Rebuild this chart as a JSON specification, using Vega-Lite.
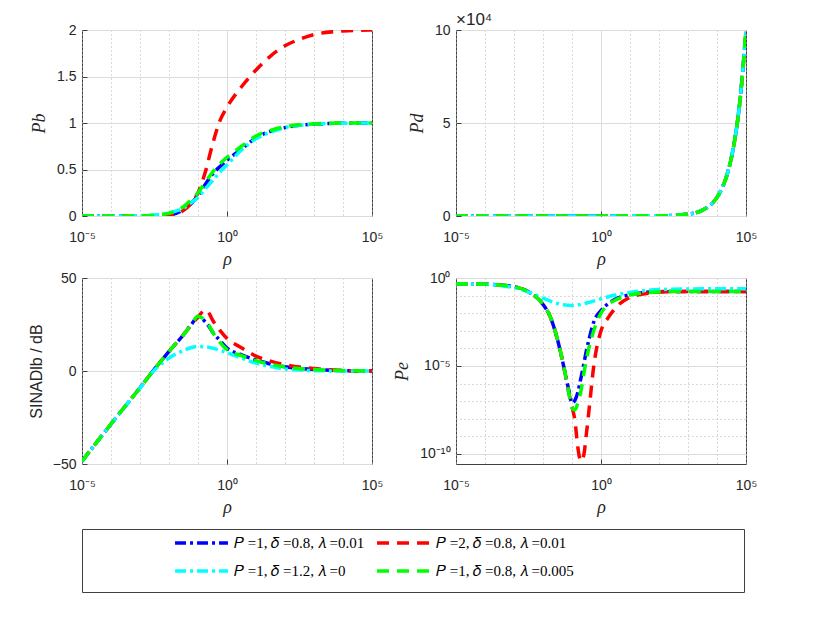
{
  "$schema": "https://vega.github.io/schema/vega-lite/v6.json",
  "padding": {"left": 27, "top": 10, "right": 5, "bottom": 5},
  "datasets": {
    "pb": [
      {"s":"A","rho":1e-5,"v":0},{"s":"A","rho":1e-4,"v":0},{"s":"A","rho":1e-3,"v":0},{"s":"A","rho":0.003162,"v":0.002},{"s":"A","rho":0.01,"v":0.01},{"s":"A","rho":0.03162,"v":0.07},{"s":"A","rho":0.05623,"v":0.13},{"s":"A","rho":0.1,"v":0.22},{"s":"A","rho":0.1778,"v":0.34},{"s":"A","rho":0.3162,"v":0.45},{"s":"A","rho":0.5623,"v":0.53},{"s":"A","rho":1,"v":0.6},{"s":"A","rho":3.162,"v":0.72},{"s":"A","rho":10,"v":0.84},{"s":"A","rho":31.62,"v":0.91},{"s":"A","rho":100,"v":0.95},{"s":"A","rho":316.2,"v":0.975},{"s":"A","rho":1000,"v":0.988},{"s":"A","rho":1e4,"v":0.998},{"s":"A","rho":1e5,"v":1.0},
      {"s":"B","rho":1e-5,"v":0},{"s":"B","rho":1e-4,"v":0},{"s":"B","rho":1e-3,"v":0},{"s":"B","rho":0.003162,"v":0.001},{"s":"B","rho":0.01,"v":0.005},{"s":"B","rho":0.03162,"v":0.06},{"s":"B","rho":0.05623,"v":0.13},{"s":"B","rho":0.1,"v":0.25},{"s":"B","rho":0.1778,"v":0.47},{"s":"B","rho":0.3162,"v":0.77},{"s":"B","rho":0.5623,"v":1.02},{"s":"B","rho":1,"v":1.17},{"s":"B","rho":3.162,"v":1.39},{"s":"B","rho":10,"v":1.57},{"s":"B","rho":31.62,"v":1.72},{"s":"B","rho":100,"v":1.83},{"s":"B","rho":316.2,"v":1.9},{"s":"B","rho":1000,"v":1.95},{"s":"B","rho":1e4,"v":1.99},{"s":"B","rho":1e5,"v":2.0},
      {"s":"C","rho":1e-5,"v":0},{"s":"C","rho":1e-4,"v":0},{"s":"C","rho":1e-3,"v":0.003},{"s":"C","rho":0.003162,"v":0.012},{"s":"C","rho":0.01,"v":0.035},{"s":"C","rho":0.03162,"v":0.085},{"s":"C","rho":0.05623,"v":0.14},{"s":"C","rho":0.1,"v":0.2},{"s":"C","rho":0.1778,"v":0.29},{"s":"C","rho":0.3162,"v":0.38},{"s":"C","rho":0.5623,"v":0.47},{"s":"C","rho":1,"v":0.55},{"s":"C","rho":3.162,"v":0.71},{"s":"C","rho":10,"v":0.83},{"s":"C","rho":31.62,"v":0.9},{"s":"C","rho":100,"v":0.95},{"s":"C","rho":316.2,"v":0.975},{"s":"C","rho":1000,"v":0.988},{"s":"C","rho":1e4,"v":0.998},{"s":"C","rho":1e5,"v":1.0},
      {"s":"D","rho":1e-5,"v":0},{"s":"D","rho":1e-4,"v":0},{"s":"D","rho":1e-3,"v":0.001},{"s":"D","rho":0.003162,"v":0.008},{"s":"D","rho":0.01,"v":0.03},{"s":"D","rho":0.03162,"v":0.1},{"s":"D","rho":0.05623,"v":0.17},{"s":"D","rho":0.1,"v":0.25},{"s":"D","rho":0.1778,"v":0.36},{"s":"D","rho":0.3162,"v":0.47},{"s":"D","rho":0.5623,"v":0.56},{"s":"D","rho":1,"v":0.63},{"s":"D","rho":3.162,"v":0.75},{"s":"D","rho":10,"v":0.86},{"s":"D","rho":31.62,"v":0.92},{"s":"D","rho":100,"v":0.96},{"s":"D","rho":316.2,"v":0.98},{"s":"D","rho":1000,"v":0.99},{"s":"D","rho":1e4,"v":0.999},{"s":"D","rho":1e5,"v":1.0}
    ],
    "pd": [
      {"s":"A","rho":1e-5,"v":0},{"s":"A","rho":100,"v":0.01},{"s":"A","rho":1000,"v":0.1},{"s":"A","rho":3162,"v":0.316},{"s":"A","rho":5623,"v":0.562},{"s":"A","rho":1e4,"v":1},{"s":"A","rho":15849,"v":1.585},{"s":"A","rho":25119,"v":2.512},{"s":"A","rho":39811,"v":3.981},{"s":"A","rho":63096,"v":6.31},{"s":"A","rho":1e5,"v":10},
      {"s":"B","rho":1e-5,"v":0},{"s":"B","rho":100,"v":0.01},{"s":"B","rho":1000,"v":0.1},{"s":"B","rho":3162,"v":0.316},{"s":"B","rho":5623,"v":0.562},{"s":"B","rho":1e4,"v":1},{"s":"B","rho":15849,"v":1.585},{"s":"B","rho":25119,"v":2.512},{"s":"B","rho":39811,"v":3.981},{"s":"B","rho":63096,"v":6.31},{"s":"B","rho":1e5,"v":10},
      {"s":"C","rho":1e-5,"v":0},{"s":"C","rho":100,"v":0.01},{"s":"C","rho":1000,"v":0.1},{"s":"C","rho":3162,"v":0.316},{"s":"C","rho":5623,"v":0.562},{"s":"C","rho":1e4,"v":1},{"s":"C","rho":15849,"v":1.585},{"s":"C","rho":25119,"v":2.512},{"s":"C","rho":39811,"v":3.981},{"s":"C","rho":63096,"v":6.31},{"s":"C","rho":1e5,"v":10},
      {"s":"D","rho":1e-5,"v":0},{"s":"D","rho":100,"v":0.01},{"s":"D","rho":1000,"v":0.1},{"s":"D","rho":3162,"v":0.316},{"s":"D","rho":5623,"v":0.562},{"s":"D","rho":1e4,"v":1},{"s":"D","rho":15849,"v":1.585},{"s":"D","rho":25119,"v":2.512},{"s":"D","rho":39811,"v":3.981},{"s":"D","rho":63096,"v":6.31},{"s":"D","rho":1e5,"v":10}
    ],
    "sinad": [
      {"s":"A","rho":1e-5,"v":-48.5},{"s":"A","rho":1e-4,"v":-28.5},{"s":"A","rho":1e-3,"v":-9},{"s":"A","rho":0.003162,"v":1},{"s":"A","rho":0.01,"v":10.5},{"s":"A","rho":0.03162,"v":19.5},{"s":"A","rho":0.05623,"v":24.5},{"s":"A","rho":0.1,"v":29},{"s":"A","rho":0.1778,"v":26.5},{"s":"A","rho":0.2512,"v":23.5},{"s":"A","rho":0.3162,"v":21},{"s":"A","rho":0.5623,"v":16.5},{"s":"A","rho":1,"v":12.3},{"s":"A","rho":3.162,"v":8.7},{"s":"A","rho":10,"v":5.9},{"s":"A","rho":31.62,"v":3.8},{"s":"A","rho":100,"v":2.3},{"s":"A","rho":1000,"v":0.8},{"s":"A","rho":1e4,"v":0.2},{"s":"A","rho":1e5,"v":0},
      {"s":"B","rho":1e-5,"v":-48.5},{"s":"B","rho":1e-4,"v":-28.5},{"s":"B","rho":1e-3,"v":-9},{"s":"B","rho":0.003162,"v":1},{"s":"B","rho":0.01,"v":10.5},{"s":"B","rho":0.03162,"v":19.5},{"s":"B","rho":0.05623,"v":24.5},{"s":"B","rho":0.1,"v":29},{"s":"B","rho":0.1778,"v":32.8},{"s":"B","rho":0.2512,"v":30.5},{"s":"B","rho":0.3162,"v":27.5},{"s":"B","rho":0.5623,"v":22},{"s":"B","rho":1,"v":17.5},{"s":"B","rho":3.162,"v":12.5},{"s":"B","rho":10,"v":8},{"s":"B","rho":31.62,"v":5.3},{"s":"B","rho":100,"v":3.4},{"s":"B","rho":1000,"v":1.3},{"s":"B","rho":1e4,"v":0.3},{"s":"B","rho":1e5,"v":0},
      {"s":"C","rho":1e-5,"v":-48.5},{"s":"C","rho":1e-4,"v":-28.5},{"s":"C","rho":1e-3,"v":-9.2},{"s":"C","rho":0.003162,"v":0.5},{"s":"C","rho":0.01,"v":7},{"s":"C","rho":0.03162,"v":11},{"s":"C","rho":0.05623,"v":12.5},{"s":"C","rho":0.1,"v":13.2},{"s":"C","rho":0.1778,"v":13},{"s":"C","rho":0.2512,"v":12.7},{"s":"C","rho":0.3162,"v":12.3},{"s":"C","rho":0.5623,"v":11.2},{"s":"C","rho":1,"v":9.9},{"s":"C","rho":3.162,"v":7},{"s":"C","rho":10,"v":4.2},{"s":"C","rho":31.62,"v":2.4},{"s":"C","rho":100,"v":1.1},{"s":"C","rho":1000,"v":0.2},{"s":"C","rho":1e4,"v":0},{"s":"C","rho":1e5,"v":0},
      {"s":"D","rho":1e-5,"v":-48.5},{"s":"D","rho":1e-4,"v":-28.5},{"s":"D","rho":1e-3,"v":-9},{"s":"D","rho":0.003162,"v":1},{"s":"D","rho":0.01,"v":10.5},{"s":"D","rho":0.03162,"v":19.5},{"s":"D","rho":0.05623,"v":24.5},{"s":"D","rho":0.1,"v":29.5},{"s":"D","rho":0.1778,"v":27},{"s":"D","rho":0.2512,"v":24},{"s":"D","rho":0.3162,"v":21},{"s":"D","rho":0.5623,"v":15.5},{"s":"D","rho":1,"v":11.5},{"s":"D","rho":3.162,"v":8.3},{"s":"D","rho":10,"v":5.6},{"s":"D","rho":31.62,"v":3.6},{"s":"D","rho":100,"v":2.2},{"s":"D","rho":1000,"v":0.8},{"s":"D","rho":1e4,"v":0.2},{"s":"D","rho":1e5,"v":0}
    ],
    "pe": [
      {"s":"A","rho":1e-5,"v":0.4786},{"s":"A","rho":1e-4,"v":0.4467},{"s":"A","rho":1e-3,"v":0.3162},{"s":"A","rho":0.003162,"v":0.166},{"s":"A","rho":0.01,"v":0.0316},{"s":"A","rho":0.01778,"v":0.00631},{"s":"A","rho":0.03162,"v":3.16e-4},{"s":"A","rho":0.05623,"v":5.01e-6},{"s":"A","rho":0.07943,"v":3.55e-7},{"s":"A","rho":0.1,"v":7.94e-8},{"s":"A","rho":0.1259,"v":1.12e-7},{"s":"A","rho":0.1585,"v":3.16e-7},{"s":"A","rho":0.1995,"v":1.78e-6},{"s":"A","rho":0.2512,"v":1.12e-5},{"s":"A","rho":0.3162,"v":7.94e-5},{"s":"A","rho":0.3981,"v":3.98e-4},{"s":"A","rho":0.5623,"v":3.16e-3},{"s":"A","rho":1,"v":0.0141},{"s":"A","rho":1.778,"v":0.0355},{"s":"A","rho":3.162,"v":0.0631},{"s":"A","rho":10,"v":0.1122},{"s":"A","rho":31.62,"v":0.1514},{"s":"A","rho":100,"v":0.166},{"s":"A","rho":1000,"v":0.1738},{"s":"A","rho":1e5,"v":0.1738},
      {"s":"B","rho":1e-5,"v":0.4786},{"s":"B","rho":1e-4,"v":0.4467},{"s":"B","rho":1e-3,"v":0.3162},{"s":"B","rho":0.003162,"v":0.166},{"s":"B","rho":0.01,"v":0.0316},{"s":"B","rho":0.01778,"v":0.00631},{"s":"B","rho":0.03162,"v":3.16e-4},{"s":"B","rho":0.05623,"v":5.01e-6},{"s":"B","rho":0.07943,"v":2.51e-7},{"s":"B","rho":0.1,"v":5.01e-8},{"s":"B","rho":0.1259,"v":7.94e-9},{"s":"B","rho":0.1585,"v":2.51e-10},{"s":"B","rho":0.1995,"v":3.98e-11},{"s":"B","rho":0.2512,"v":7.94e-11},{"s":"B","rho":0.3162,"v":1.58e-9},{"s":"B","rho":0.3981,"v":5.01e-8},{"s":"B","rho":0.5623,"v":1e-5},{"s":"B","rho":1,"v":1e-3},{"s":"B","rho":1.778,"v":5.62e-3},{"s":"B","rho":3.162,"v":0.02},{"s":"B","rho":10,"v":0.0794},{"s":"B","rho":31.62,"v":0.1259},{"s":"B","rho":100,"v":0.1585},{"s":"B","rho":1000,"v":0.1738},{"s":"B","rho":1e5,"v":0.1738},
      {"s":"C","rho":1e-5,"v":0.4786},{"s":"C","rho":1e-4,"v":0.4365},{"s":"C","rho":1e-3,"v":0.2818},{"s":"C","rho":0.003162,"v":0.1585},{"s":"C","rho":0.01,"v":0.0708},{"s":"C","rho":0.03162,"v":0.0355},{"s":"C","rho":0.1,"v":0.0275},{"s":"C","rho":0.3162,"v":0.038},{"s":"C","rho":1,"v":0.0661},{"s":"C","rho":3.162,"v":0.1072},{"s":"C","rho":10,"v":0.1514},{"s":"C","rho":31.62,"v":0.1905},{"s":"C","rho":100,"v":0.2188},{"s":"C","rho":1000,"v":0.2399},{"s":"C","rho":1e5,"v":0.2455},
      {"s":"D","rho":1e-5,"v":0.4786},{"s":"D","rho":1e-4,"v":0.4467},{"s":"D","rho":1e-3,"v":0.3162},{"s":"D","rho":0.003162,"v":0.166},{"s":"D","rho":0.01,"v":0.0316},{"s":"D","rho":0.01778,"v":0.00631},{"s":"D","rho":0.03162,"v":3.16e-4},{"s":"D","rho":0.05623,"v":5.01e-6},{"s":"D","rho":0.07943,"v":2.51e-7},{"s":"D","rho":0.1,"v":3.98e-8},{"s":"D","rho":0.1259,"v":3.16e-8},{"s":"D","rho":0.1585,"v":7.94e-8},{"s":"D","rho":0.1995,"v":3.16e-7},{"s":"D","rho":0.2512,"v":3.16e-6},{"s":"D","rho":0.3162,"v":2.51e-5},{"s":"D","rho":0.3981,"v":1.41e-4},{"s":"D","rho":0.5623,"v":1e-3},{"s":"D","rho":1,"v":0.01},{"s":"D","rho":1.778,"v":0.0316},{"s":"D","rho":3.162,"v":0.0562},{"s":"D","rho":10,"v":0.1072},{"s":"D","rho":31.62,"v":0.1445},{"s":"D","rho":100,"v":0.1622},{"s":"D","rho":1000,"v":0.1738},{"s":"D","rho":1e5,"v":0.1738}
    ]
  },
  "vconcat": [
    {
      "vconcat": [
        {
          "hconcat": [
            {
              "width": 290, "height": 186,
              "data": {"name": "pb"},
              "mark": {"type": "line", "strokeWidth": 3.5, "interpolate": "monotone", "clip": true},
              "encoding": {
                "x": {"field": "rho", "type": "quantitative", "scale": {"type": "log", "domain": [1e-5, 1e5], "nice": false},
                  "axis": {"title": "ρ", "values": [1e-5,1e-4,1e-3,0.01,0.1,1,10,100,1000,1e4,1e5],
                    "labelExpr": "datum.value < 2e-5 ? '10⁻⁵' : (datum.value > 0.5 && datum.value < 2) ? '10⁰' : datum.value > 5e4 ? '10⁵' : ''",
                    "tickOpacity": {"condition": {"test": "datum.value > 0.5 && datum.value < 2", "value": 1}, "value": 0},
                    "gridDash": {"condition": {"test": "datum.value > 0.5 && datum.value < 2", "value": []}, "value": [1, 3]},
                    "gridColor": {"condition": {"test": "datum.value > 0.5 && datum.value < 2", "value": "#dcdcdc"}, "value": "#b4b4b4"}}},
                "y": {"field": "v", "type": "quantitative", "scale": {"domain": [0, 2], "nice": false},
                  "axis": {"title": "Pb", "values": [0, 0.5, 1, 1.5, 2], "format": "~g"}},
                "color": {"field": "s", "type": "nominal", "scale": {"domain": ["A","B","C","D"], "range": ["#0000ff","#ff0000","#00ffff","#00ff00"]},
                  "legend": {"labelExpr": "datum.label == 'A' ? '𝑃 =1, 𝛿 =0.8, 𝜆 =0.01' : datum.label == 'B' ? '𝑃 =2, 𝛿 =0.8, 𝜆 =0.01' : datum.label == 'C' ? '𝑃 =1, 𝛿 =1.2, 𝜆 =0' : '𝑃 =1, 𝛿 =0.8, 𝜆 =0.005'"}},
                "strokeDash": {"field": "s", "type": "nominal", "scale": {"domain": ["A","B","C","D"], "range": [[11,4,3,4],[12,8],[11,4,3,4],[12,8]]},
                  "legend": {"labelExpr": "datum.label == 'A' ? '𝑃 =1, 𝛿 =0.8, 𝜆 =0.01' : datum.label == 'B' ? '𝑃 =2, 𝛿 =0.8, 𝜆 =0.01' : datum.label == 'C' ? '𝑃 =1, 𝛿 =1.2, 𝜆 =0' : '𝑃 =1, 𝛿 =0.8, 𝜆 =0.005'"}}
              }
            },
            {
              "width": 290, "height": 186,
              "layer": [
                {
                  "data": {"name": "pd"},
                  "mark": {"type": "line", "strokeWidth": 3.5, "interpolate": "monotone", "clip": true},
                  "encoding": {
                    "x": {"field": "rho", "type": "quantitative", "scale": {"type": "log", "domain": [1e-5, 1e5], "nice": false},
                      "axis": {"title": "ρ", "values": [1e-5,1e-4,1e-3,0.01,0.1,1,10,100,1000,1e4,1e5],
                        "labelExpr": "datum.value < 2e-5 ? '10⁻⁵' : (datum.value > 0.5 && datum.value < 2) ? '10⁰' : datum.value > 5e4 ? '10⁵' : ''",
                        "tickOpacity": {"condition": {"test": "datum.value > 0.5 && datum.value < 2", "value": 1}, "value": 0},
                        "gridDash": {"condition": {"test": "datum.value > 0.5 && datum.value < 2", "value": []}, "value": [1, 3]},
                        "gridColor": {"condition": {"test": "datum.value > 0.5 && datum.value < 2", "value": "#dcdcdc"}, "value": "#b4b4b4"}}},
                    "y": {"field": "v", "type": "quantitative", "scale": {"domain": [0, 10], "nice": false},
                      "axis": {"title": "Pd", "values": [0, 5, 10]}},
                    "color": {"field": "s", "type": "nominal"},
                    "strokeDash": {"field": "s", "type": "nominal"}
                  }
                },
                {
                  "data": {"values": [{"t": "×10⁴"}]},
                  "mark": {"type": "text", "align": "left", "baseline": "bottom", "dy": -1, "font": "Liberation Sans", "fontSize": 17, "color": "#262626"},
                  "encoding": {
                    "x": {"datum": 1e-5},
                    "y": {"datum": 10},
                    "text": {"field": "t"}
                  }
                }
              ]
            }
          ],
          "spacing": 84, "bounds": "flush"
        },
        {
          "hconcat": [
            {
              "width": 290, "height": 186,
              "data": {"name": "sinad"},
              "mark": {"type": "line", "strokeWidth": 3.5, "interpolate": "monotone", "clip": true},
              "encoding": {
                "x": {"field": "rho", "type": "quantitative", "scale": {"type": "log", "domain": [1e-5, 1e5], "nice": false},
                  "axis": {"title": "ρ", "values": [1e-5,1e-4,1e-3,0.01,0.1,1,10,100,1000,1e4,1e5],
                    "labelExpr": "datum.value < 2e-5 ? '10⁻⁵' : (datum.value > 0.5 && datum.value < 2) ? '10⁰' : datum.value > 5e4 ? '10⁵' : ''",
                    "tickOpacity": {"condition": {"test": "datum.value > 0.5 && datum.value < 2", "value": 1}, "value": 0},
                    "gridDash": {"condition": {"test": "datum.value > 0.5 && datum.value < 2", "value": []}, "value": [1, 3]},
                    "gridColor": {"condition": {"test": "datum.value > 0.5 && datum.value < 2", "value": "#dcdcdc"}, "value": "#b4b4b4"}}},
                "y": {"field": "v", "type": "quantitative", "scale": {"domain": [-50, 50], "nice": false},
                  "axis": {"title": "SINADlb / dB", "values": [-50, 0, 50], "titleFont": "Liberation Sans", "titleFontStyle": "normal", "titleFontSize": 16}},
                "color": {"field": "s", "type": "nominal"},
                "strokeDash": {"field": "s", "type": "nominal"}
              }
            },
            {
              "width": 290, "height": 186,
              "data": {"name": "pe"},
              "mark": {"type": "line", "strokeWidth": 3.5, "interpolate": "monotone", "clip": true},
              "encoding": {
                "x": {"field": "rho", "type": "quantitative", "scale": {"type": "log", "domain": [1e-5, 1e5], "nice": false},
                  "axis": {"title": "ρ", "values": [1e-5,1e-4,1e-3,0.01,0.1,1,10,100,1000,1e4,1e5],
                    "labelExpr": "datum.value < 2e-5 ? '10⁻⁵' : (datum.value > 0.5 && datum.value < 2) ? '10⁰' : datum.value > 5e4 ? '10⁵' : ''",
                    "tickOpacity": {"condition": {"test": "datum.value > 0.5 && datum.value < 2", "value": 1}, "value": 0},
                    "gridDash": {"condition": {"test": "datum.value > 0.5 && datum.value < 2", "value": []}, "value": [1, 3]},
                    "gridColor": {"condition": {"test": "datum.value > 0.5 && datum.value < 2", "value": "#dcdcdc"}, "value": "#b4b4b4"}}},
                "y": {"field": "v", "type": "quantitative", "scale": {"type": "log", "domain": [2.7e-11, 1], "nice": false},
                  "axis": {"title": "Pe", "values": [1e-10,1e-9,1e-8,1e-7,1e-6,1e-5,1e-4,1e-3,0.01,0.1,1],
                    "labelExpr": "datum.value < 2e-10 ? '10⁻¹⁰' : (datum.value > 5e-6 && datum.value < 2e-5) ? '10⁻⁵' : datum.value > 0.5 ? '10⁰' : ''",
                    "tickOpacity": {"condition": {"test": "datum.value < 2e-10 || (datum.value > 5e-6 && datum.value < 2e-5)", "value": 1}, "value": 0},
                    "gridDash": {"condition": {"test": "datum.value < 2e-10 || (datum.value > 5e-6 && datum.value < 2e-5) || datum.value > 0.5", "value": []}, "value": [1, 3]},
                    "gridColor": {"condition": {"test": "datum.value < 2e-10 || (datum.value > 5e-6 && datum.value < 2e-5) || datum.value > 0.5", "value": "#dcdcdc"}, "value": "#b4b4b4"}}},
                "color": {"field": "s", "type": "nominal"},
                "strokeDash": {"field": "s", "type": "nominal"}
              }
            }
          ],
          "spacing": 84, "bounds": "flush"
        }
      ],
      "spacing": 1
    },
    {
      "width": 662, "height": 63,
      "data": {"values": [{"t": ""}]},
      "mark": {"type": "text"},
      "encoding": {
        "x": {"datum": 0, "type": "quantitative", "scale": {"domain": [0, 1]}, "axis": null},
        "y": {"datum": 0, "type": "quantitative", "scale": {"domain": [0, 1]}, "axis": null},
        "text": {"field": "t"}
      }
    }
  ],
  "spacing": 11,
  "config": {
    "font": "Liberation Sans",
    "view": {"stroke": "#404040", "strokeWidth": 1},
    "axis": {"domain": false, "ticks": true, "tickSize": -5, "tickColor": "#404040", "labelFont": "Liberation Sans", "labelFontSize": 14, "labelColor": "#262626",
      "titleFont": "Liberation Serif", "titleFontStyle": "italic", "titleFontWeight": "normal", "titleFontSize": 18, "titleColor": "#262626",
      "gridColor": "#dcdcdc", "gridWidth": 1, "labelOverlap": false, "labelFlush": false},
    "axisX": {"labelPadding": 19, "titlePadding": 6},
    "axisY": {"labelPadding": 11, "titlePadding": 8},
    "legend": {
      "orient": "none", "legendX": 91, "legendY": 503,
      "columns": 2, "direction": "horizontal", "title": null,
      "symbolType": "stroke", "symbolSize": 2800, "symbolStrokeWidth": 3.5, "clipHeight": 20,
      "labelFont": "Liberation Serif", "labelFontSize": 15, "labelColor": "#000000", "labelOffset": 4, "labelLimit": 300,
      "rowPadding": 8, "columnPadding": 10
    }
  }
}
